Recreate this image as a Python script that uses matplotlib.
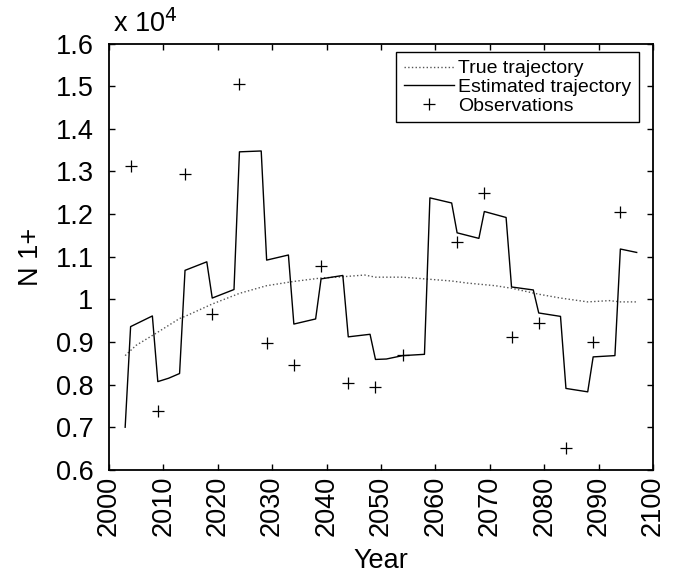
import numpy as np
import matplotlib.pyplot as plt

plt.rcParams['font.family'] = ['Liberation Sans', 'DejaVu Sans']

# observations (every 5 years)
obs_year = [2004, 2009, 2014, 2019, 2024, 2029, 2034, 2039, 2044, 2049,
            2054, 2064, 2069, 2074, 2079, 2084, 2089, 2094]
obs_n1 = [13130, 7380, 12930, 9660, 15050, 8965, 8470, 10790, 8040, 7950,
          8690, 11340, 12490, 9110, 9440, 6510, 9000, 12040]

# estimated trajectory
est_year = [2003, 2004, 2008, 2009, 2011, 2013, 2014, 2018, 2019, 2023,
            2024, 2028, 2029, 2033, 2034, 2038, 2039, 2043, 2044, 2048,
            2049, 2051, 2054, 2058, 2059, 2063, 2064, 2068, 2069, 2073,
            2074, 2078, 2079, 2083, 2084, 2088, 2089, 2093, 2094, 2097]
est_n1 = [7000, 9360, 9610, 8070, 8150, 8260, 10680, 10880, 10030, 10230,
          13460, 13480, 10920, 11040, 9420, 9540, 10480, 10560, 9120, 9180,
          8590, 8600, 8680, 8710, 12380, 12260, 11560, 11430, 12060, 11920,
          10290, 10220, 9680, 9600, 7910, 7830, 8650, 8680, 11180, 11100]

# true trajectory
true_year = [2003, 2005, 2009, 2013, 2014, 2019, 2024, 2029, 2034, 2039,
             2043, 2047, 2049, 2054, 2058, 2063, 2066, 2071, 2074, 2079,
             2083, 2088, 2092, 2094, 2097]
true_n1 = [8680, 8920, 9230, 9550, 9600, 9890, 10140, 10320, 10420, 10500,
           10530, 10570, 10520, 10520, 10480, 10430, 10380, 10320, 10260, 10120,
           10030, 9940, 9970, 9940, 9940]

scale = 1e4

fig = plt.figure(figsize=(6.76, 5.73), dpi=100)
ax = fig.add_axes([0.161, 0.180, 0.805, 0.744])

ax.plot(true_year, np.array(true_n1)/scale, ':', color='#555555', lw=1.0,
        label='True trajectory')
ax.plot(est_year, np.array(est_n1)/scale, '-', color='black', lw=1.0,
        label='Estimated trajectory')
ax.plot(obs_year, np.array(obs_n1)/scale, '+', color='black', ms=9, mew=0.9,
        label='Observations')

ax.set_xlim(2000, 2100)
ax.set_ylim(0.6, 1.6)
ax.set_xticks(np.arange(2000, 2101, 10))
ax.set_yticks(np.arange(0.6, 1.61, 0.1))
ax.set_yticklabels(['%g' % round(v, 1) for v in np.arange(0.6, 1.61, 0.1)])
ax.tick_params(direction='in', length=4, width=1, top=True, right=True,
               labelsize=19.5)
ax.tick_params(axis='x', pad=4)
ax.tick_params(axis='y', pad=11)
plt.setp(ax.get_xticklabels(), rotation=90)
for s in ax.spines.values():
    s.set_linewidth(1.3)

ax.set_xlabel('Year', fontsize=19.5, va='baseline')
ax.xaxis.set_label_coords(0.5, -0.2295)
ax.set_ylabel('N 1+', fontsize=19.5, labelpad=8)
ax.text(0.008, 1.012, 'x 10$^4$', transform=ax.transAxes, fontsize=19.5,
        ha='left', va='bottom')

leg = ax.legend(loc='upper right', bbox_to_anchor=(0.974, 0.980),
                borderaxespad=0, fancybox=False, edgecolor='black',
                framealpha=1, fontsize=14, handlelength=2.6,
                handletextpad=0.2, labelspacing=0.05, borderpad=0.4)
leg.get_frame().set_linewidth(1.0)

fig.savefig('out.png', dpi=100)
